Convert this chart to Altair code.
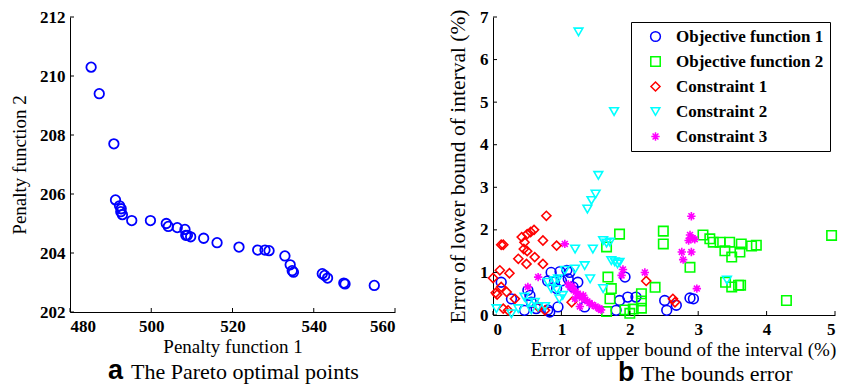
import altair as alt
import pandas as pd

# ---------------- Panel a: Pareto optimal points ----------------
pf1 = [485.2, 487.2, 490.8, 491.2, 492.2, 492.6, 492.5, 492.9, 495.2, 499.8,
       503.7, 504.2, 506.4, 508.3, 508.5, 508.9, 509.7, 512.9, 516.2, 521.6,
       526.2, 528.0, 529.0, 532.9, 534.2, 534.7, 535.0, 542.1, 542.7, 543.4,
       547.4, 547.7, 554.9]
pf2 = [210.3, 209.4, 207.7, 205.8, 205.6, 205.5, 205.4, 205.3, 205.1, 205.1,
       205.0, 204.9, 204.86, 204.8, 204.6, 204.6, 204.55, 204.5, 204.35, 204.2,
       204.1, 204.1, 204.08, 203.9, 203.6, 203.4, 203.35, 203.3, 203.24, 203.15,
       202.98, 202.95, 202.9]
a_xticks = [480, 500, 520, 540, 560]
a_yticks = [202, 204, 206, 208, 210, 212]

# ---------------- Panel b: bounds error ----------------
series_names = ["Objective function 1", "Objective function 2",
                "Constraint 1", "Constraint 2", "Constraint 3"]
series_colors = ["#0000ff", "#00ff00", "#ff0000", "#00ffff", "#ff00ff"]

obj1_x = [0.12, 0.27, 0.51, 0.54, 0.56, 0.46, 0.63, 0.80, 0.83, 0.95,
          0.85, 0.98, 1.08, 1.12, 0.80, 0.90, 1.00, 1.10, 1.24, 0.93,
          1.17, 1.34, 1.80, 1.93, 1.85, 1.97, 2.09, 2.51, 2.54, 2.68,
          2.88, 2.93]
obj1_y = [0.77, 0.38, 0.58, 0.46, 0.30, 0.11, 0.15, 0.12, 0.07, 0.19,
          1.00, 1.02, 1.05, 1.00, 0.80, 0.78, 0.80, 0.85, 0.77, 0.62,
          0.66, 0.19, 0.11, 0.89, 0.34, 0.42, 0.42, 0.34, 0.11, 0.23,
          0.40, 0.38]

obj2_x = [1.66, 1.85, 1.68, 1.73, 1.71, 1.66, 1.93, 2.00, 2.05, 2.17,
          2.17, 2.17, 2.37, 2.49, 2.49, 2.88, 3.07, 3.17, 3.22, 3.32,
          3.39, 3.46, 3.49, 3.63, 3.61, 3.78, 3.85, 3.40, 3.49, 3.59,
          3.62, 4.29, 4.95]
obj2_y = [1.60, 1.90, 0.89, 0.62, 0.38, 0.08, 0.12, 0.04, 0.14, 0.16,
          0.33, 0.50, 0.65, 1.97, 1.67, 1.12, 1.88, 1.79, 1.71, 1.71,
          1.51, 1.71, 1.36, 1.67, 1.48, 1.62, 1.64, 0.77, 0.66, 0.70,
          0.70, 0.34, 1.87]

con1_x = [0.78, 0.42, 0.50, 0.55, 0.60, 0.46, 0.73, 0.93, 0.12, 0.15,
          0.45, 0.50, 0.37, 0.61, 0.49, 0.73, 0.10, 0.24, 0.00, 0.12,
          0.04, 0.06, 0.20, 0.32, 0.22, 1.15, 0.66, 0.76, 0.15, 2.24,
          2.63, 2.66]
con1_y = [2.33, 1.83, 1.90, 1.95, 2.00, 1.71, 1.75, 1.63, 1.65, 1.65,
          1.55, 1.50, 1.32, 1.36, 1.20, 1.20, 1.05, 0.98, 0.87, 0.66,
          0.52, 0.48, 0.54, 0.38, 0.11, 0.30, 0.19, 0.11, 0.15, 0.80,
          0.38, 0.30]

con2_x = [1.25, 1.77, 1.54, 1.50, 1.44, 1.38, 1.20, 1.46, 1.61, 1.71,
          1.66, 1.73, 1.78, 1.82, 1.85, 1.34, 1.20, 1.05, 0.90, 0.80,
          0.95, 0.85, 0.93, 1.02, 0.97, 0.61, 0.46, 0.52, 0.37, 0.27,
          0.05, 0.66, 0.56, 0.76, 1.61, 1.42, 3.42]
con2_y = [6.65, 4.78, 3.28, 2.84, 2.69, 2.49, 1.55, 1.55, 1.75, 1.71,
          1.69, 1.28, 1.25, 1.20, 1.24, 1.16, 1.08, 1.05, 0.81, 0.77,
          0.85, 0.62, 0.60, 0.46, 0.38, 0.30, 0.42, 0.30, 0.15, 0.03,
          0.15, 0.19, 0.12, 0.20, 0.62, 0.85, 0.82]

con3_x = [1.05, 0.66, 0.51, 1.10, 1.13, 1.16, 1.18, 1.21, 1.24, 1.27,
          1.30, 1.32, 1.35, 1.38, 1.41, 1.45, 1.50, 1.55, 1.58, 1.27,
          1.20, 1.56, 1.90, 1.88, 2.22, 2.90, 2.88, 2.92, 2.95, 2.86,
          2.76, 2.78, 2.90, 2.98]
con3_y = [1.67, 0.89, 0.66, 0.72, 0.65, 0.68, 0.58, 0.55, 0.50, 0.45,
          0.40, 0.46, 0.36, 0.32, 0.28, 0.24, 0.20, 0.15, 0.12, 0.20,
          0.38, 0.15, 1.07, 0.93, 1.00, 2.32, 1.88, 1.80, 1.78, 1.75,
          1.48, 1.30, 1.48, 0.62]

b_xticks = [0, 1, 2, 3, 4, 5]
b_yticks = [0, 1, 2, 3, 4, 5, 6, 7]

caption_letters = ["a", "b"]
caption_texts = ["The Pareto optimal points", "The bounds error"]

# ---------------- styling ----------------
SERIF = "Liberation Serif"
SANS = "Liberation Sans"
W_A, H_A = 325, 295
W_B, H_B = 342, 298
ASTERISK = "M0,-1L0,1M-1,0L1,0M-0.7,-0.7L0.7,0.7M-0.7,0.7L0.7,-0.7"
series_shapes = ["circle", "square", "diamond", "triangle-down", ASTERISK]
series_sizes = [95, 70, 140, 150, 110]

AX = dict(domainColor="black", domainWidth=1, ticks=False, grid=False,
          labelFont=SERIF, labelFontWeight="bold", labelFontSize=17, labelColor="black",
          titleFont=SERIF, titleFontWeight="normal", titleColor="black")

# ---------------- panel a ----------------
df_a = pd.DataFrame({"pf1": pf1, "pf2": pf2})
xa = alt.X("pf1:Q", scale=alt.Scale(domain=[480, 560], nice=False, zero=False),
           axis=alt.Axis(values=a_xticks, title="Penalty function 1", titleFontSize=19,
                         labelPadding=6, titlePadding=3, **AX))
ya = alt.Y("pf2:Q", scale=alt.Scale(domain=[202, 212], nice=False, zero=False),
           axis=alt.Axis(values=a_yticks, title="Penalty function 2", titleFontSize=19,
                         labelPadding=5, titlePadding=10, **AX))

pts_a = alt.Chart(df_a).mark_point(shape="circle", filled=False, color="#0000ff",
                                   size=90, strokeWidth=1.8, opacity=1).encode(x=xa, y=ya)
tick_ax = alt.Chart(pd.DataFrame({"pf1": a_xticks})).mark_rule(color="black").encode(
    x=xa, y=alt.value(H_A), y2=alt.value(H_A - 4))
tick_ay = alt.Chart(pd.DataFrame({"pf2": a_yticks})).mark_rule(color="black").encode(
    y=ya, x=alt.value(0), x2=alt.value(4))
cap_a1 = alt.Chart(pd.DataFrame({"t": [caption_letters[0]]})).mark_text(
    align="left", baseline="alphabetic", font=SANS, fontWeight="bold", fontSize=27,
    color="black").encode(x=alt.value(38), y=alt.value(362), text="t:N")
cap_a2 = alt.Chart(pd.DataFrame({"t": [caption_texts[0]]})).mark_text(
    align="left", baseline="alphabetic", font=SERIF, fontSize=22,
    color="black").encode(x=alt.value(61), y=alt.value(362), text="t:N")
panel_a = alt.layer(pts_a, tick_ax, tick_ay, cap_a1, cap_a2).properties(width=W_A, height=H_A)

# ---------------- panel b ----------------
rows = []
for name, xs, ys in zip(series_names,
                        [obj1_x, obj2_x, con1_x, con2_x, con3_x],
                        [obj1_y, obj2_y, con1_y, con2_y, con3_y]):
    for xv, yv in zip(xs, ys):
        rows.append({"series": name, "ex": xv, "ey": yv})
df_b = pd.DataFrame(rows)

xb = alt.X("ex:Q", scale=alt.Scale(domain=[0, 5], nice=False),
           axis=alt.Axis(values=b_xticks, title="Error of upper bound of the interval (%)",
                         titleFontSize=19, labelPadding=6, titlePadding=3, titleX=190,
                         titleAlign="center", **AX))
yb = alt.Y("ey:Q", scale=alt.Scale(domain=[0, 7], nice=False),
           axis=alt.Axis(values=b_yticks, title="Error of lower bound of interval (%)",
                         titleFontSize=21.5, labelPadding=5, titlePadding=10, **AX))
# legend positioned relative to the top-level (left plot) origin
leg = alt.Legend(title=None, orient="none", legendX=561, legendY=5)

pts_b = alt.Chart(df_b).mark_point(filled=False, strokeWidth=1.6, opacity=1).encode(
    x=xb, y=yb,
    color=alt.Color("series:N", scale=alt.Scale(domain=series_names, range=series_colors), legend=leg),
    shape=alt.Shape("series:N", scale=alt.Scale(domain=series_names, range=series_shapes), legend=leg),
    size=alt.Size("series:N", scale=alt.Scale(domain=series_names, range=series_sizes), legend=None),
)
tick_bx = alt.Chart(pd.DataFrame({"ex": b_xticks})).mark_rule(color="black").encode(
    x=xb, y=alt.value(H_B), y2=alt.value(H_B - 4))
tick_by = alt.Chart(pd.DataFrame({"ey": b_yticks})).mark_rule(color="black").encode(
    y=yb, x=alt.value(0), x2=alt.value(4))
cap_b1 = alt.Chart(pd.DataFrame({"t": [caption_letters[1]]})).mark_text(
    align="left", baseline="alphabetic", font=SANS, fontWeight="bold", fontSize=27,
    color="black").encode(x=alt.value(125), y=alt.value(364), text="t:N")
cap_b2 = alt.Chart(pd.DataFrame({"t": [caption_texts[1]]})).mark_text(
    align="left", baseline="alphabetic", font=SERIF, fontSize=22,
    color="black").encode(x=alt.value(148), y=alt.value(364), text="t:N")
panel_b = alt.layer(pts_b, tick_bx, tick_by, cap_b1, cap_b2).properties(width=W_B, height=H_B)

chart = alt.hconcat(panel_a, panel_b, spacing=98, bounds="flush").properties(
    padding={"left": 10, "top": 8, "right": 5, "bottom": 0},
    background="white",
).configure_view(stroke=None).configure_legend(
    strokeColor="black", fillColor="white", padding=6, symbolOffset=10,
    labelFont=SERIF, labelFontWeight="bold", labelFontSize=17, labelColor="black",
    labelOffset=12, rowPadding=7, symbolSize=75, symbolStrokeWidth=1.5,
)

chart.save("out.html", embed_options={"renderer": "svg", "actions": False})
